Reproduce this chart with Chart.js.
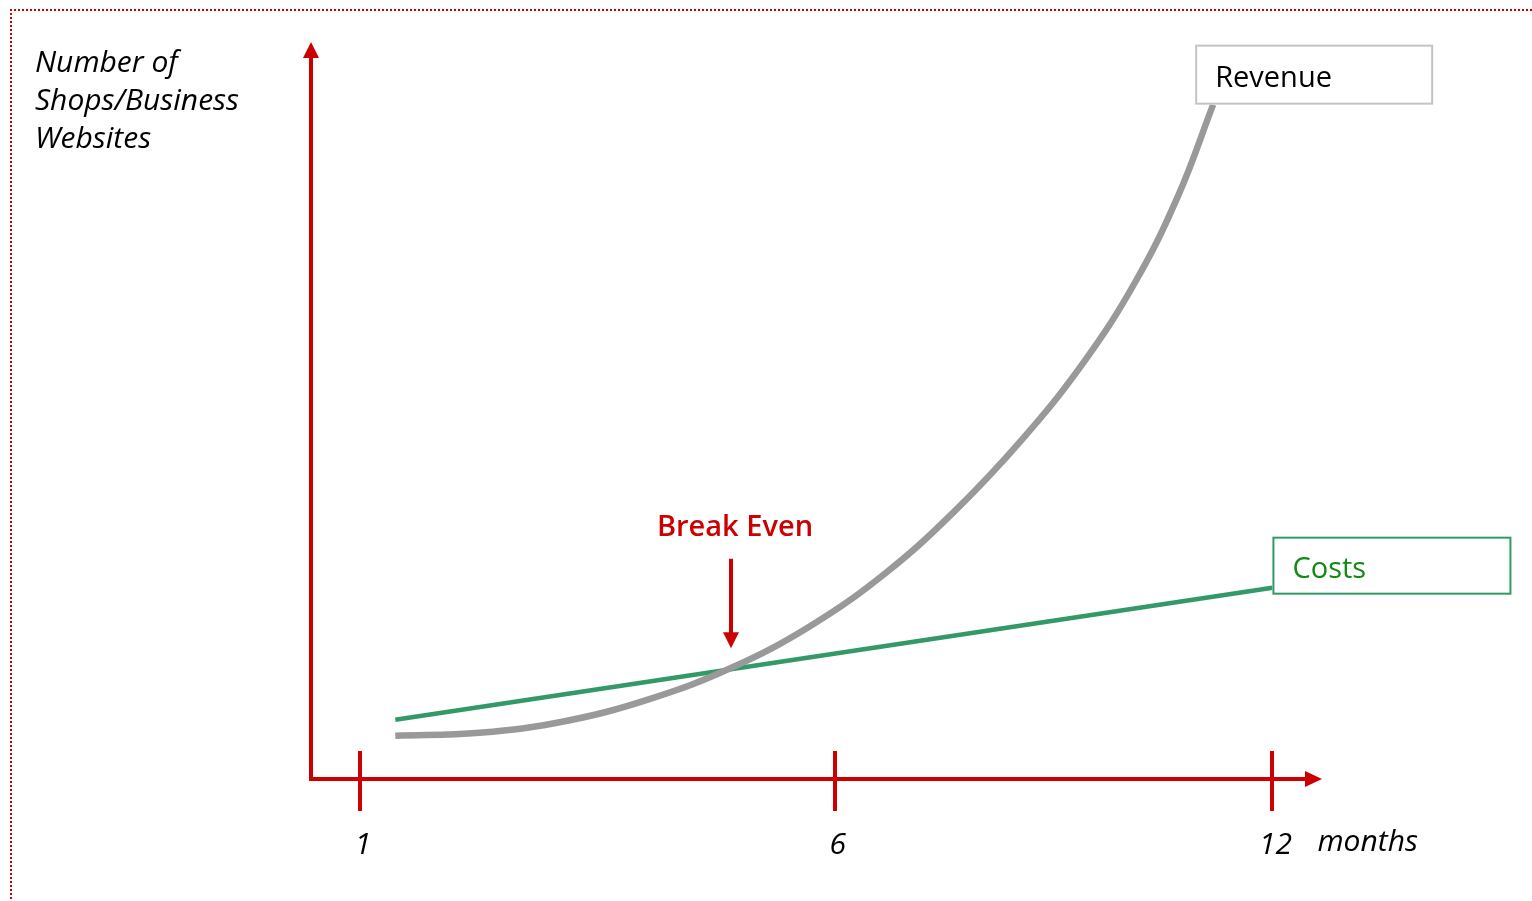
<!DOCTYPE html>
<html>
<head>
<meta charset="utf-8">
<script src="https://cdn.jsdelivr.net/npm/chart.js@4/dist/chart.umd.min.js"></script>
<style>
html, body { margin: 0; padding: 0; background: #fff; }
#wrap { position: relative; width: 1532px; height: 901px; overflow: hidden; }
#frameTop { position: absolute; left: 10px; top: 9px; width: 1522px; height: 2px;
  background: repeating-linear-gradient(to right, #cc0000 0 2px, transparent 2px 4px); pointer-events: none; }
#frameLeft { position: absolute; left: 10px; top: 9px; width: 2px; height: 892px;
  background: repeating-linear-gradient(to bottom, #cc0000 0 2px, transparent 2px 4px); pointer-events: none; }
canvas { position: absolute; left: 0; top: 0; }
</style>
</head>
<body>
<div id="wrap">
  <canvas id="c" width="1532" height="901"></canvas>
  <div id="frameTop"></div>
  <div id="frameLeft"></div>
</div>
<script>
// ---------- data ----------
const tickMonths = [1, 6, 12];
const tickLabels = ['1', '6', '12'];
const xAxisTitle = 'months';
const yAxisTitle = ['Number of', 'Shops/Business', 'Websites'];
const seriesNames = ['Revenue', 'Costs'];

const revenueMonths = [1.29, 2.05, 2.90, 3.82, 4.75, 5.70, 6.64, 7.54, 8.44, 9.28, 10.01, 10.62, 11.13];
const revenueValues = [6.0, 6.4, 8.0, 11.1, 15.4, 21.2, 28.5, 37.1, 47.0, 57.6, 68.8, 80.7, 93.4];

const costMonths = [1.29, 12];
const costValues = [8.2, 26.5];

const breakEvenLabel = 'Break Even';
const breakEvenMonth = 4.75;
const breakEvenArrow = [30.5, 18.1];   // arrow from / to (y units)
const breakEvenTextAt = 33.7;          // text baseline (y units)

// ---------- styling ----------
const RED = '#cc0000';
const GREEN_LINE = '#339966';
const GREEN_TEXT = '#128a12';
const GREY_LINE = '#999999';
const FONT = '"Open Sans", "DejaVu Sans", sans-serif';
const X_EXPONENT = 0.75;

// ---------- a power x scale (schematic month axis) ----------
class PowScale extends Chart.LinearScale {
  getPixelForValue(v) {
    const a = Math.pow(this.min, X_EXPONENT), b = Math.pow(this.max, X_EXPONENT);
    return this.getPixelForDecimal((Math.pow(v, X_EXPONENT) - a) / (b - a));
  }
  getValueForPixel(px) {
    const a = Math.pow(this.min, X_EXPONENT), b = Math.pow(this.max, X_EXPONENT);
    const d = this.getDecimalForPixel(px);
    return Math.pow(a + d * (b - a), 1 / X_EXPONENT);
  }
}
PowScale.id = 'pow';
PowScale.defaults = Chart.LinearScale.defaults;
Chart.register(PowScale);

const toPoints = (xs, ys) => xs.map((m, i) => ({ x: m, y: ys[i] }));

function labelBox(ctx, x, y, w, h, stroke, text, color, tx, tyBase) {
  ctx.fillStyle = '#fff';
  ctx.fillRect(x, y, w, h);
  ctx.lineWidth = 2;
  ctx.strokeStyle = stroke;
  ctx.strokeRect(x + 1, y + 1, w - 2, h - 2);
  ctx.fillStyle = color;
  ctx.font = '29px ' + FONT;
  ctx.textAlign = 'left';
  ctx.textBaseline = 'alphabetic';
  ctx.fillText(text, tx, tyBase);
}

const schematic = {
  id: 'schematic',
  beforeDatasetsDraw(chart) {
    const { ctx, chartArea: a, scales: { x } } = chart;
    ctx.save();
    ctx.fillStyle = RED;
    // y axis + arrow
    ctx.fillRect(a.left - 2, a.top, 4, a.bottom - a.top + 2);
    ctx.beginPath();
    ctx.moveTo(a.left - 8, a.top + 1);
    ctx.lineTo(a.left + 8, a.top + 1);
    ctx.lineTo(a.left, a.top - 15);
    ctx.closePath();
    ctx.fill();
    // x axis + arrow
    ctx.fillRect(a.left - 2, a.bottom - 2, a.right - a.left + 2, 4);
    ctx.beginPath();
    ctx.moveTo(a.right - 1, a.bottom - 8);
    ctx.lineTo(a.right - 1, a.bottom + 8);
    ctx.lineTo(a.right + 16, a.bottom);
    ctx.closePath();
    ctx.fill();
    // tick marks
    tickMonths.forEach(m => {
      const px = Math.round(x.getPixelForValue(m));
      ctx.fillRect(px - 2, a.bottom - 28, 4, 60);
    });
    // tick labels
    ctx.fillStyle = '#000';
    ctx.font = 'italic 30px ' + FONT;
    ctx.textAlign = 'center';
    ctx.textBaseline = 'alphabetic';
    tickMonths.forEach((m, i) => {
      ctx.fillText(tickLabels[i], x.getPixelForValue(m) + 3, a.bottom + 75);
    });
    ctx.textAlign = 'left';
    ctx.fillText(xAxisTitle, x.getPixelForValue(tickMonths[tickMonths.length - 1]) + 45, a.bottom + 72);
    // y axis title
    yAxisTitle.forEach((t, i) => ctx.fillText(t, a.left - 276, a.top + 15 + i * 38));
    ctx.restore();
  },
  afterDatasetsDraw(chart) {
    const { ctx, scales: { x, y } } = chart;
    ctx.save();
    // Revenue label box at end of revenue curve
    const rx = x.getPixelForValue(revenueMonths[revenueMonths.length - 1]);
    const ry = y.getPixelForValue(revenueValues[revenueValues.length - 1]);
    labelBox(ctx, rx - 18, ry - 60, 238, 60, '#c4c4c4', seriesNames[0], '#000', rx + 2, ry - 18);
    // Costs label box at end of cost line
    const cx = x.getPixelForValue(costMonths[costMonths.length - 1]);
    const cy = y.getPixelForValue(costValues[costValues.length - 1]);
    labelBox(ctx, cx, cy - 51, 239, 58, GREEN_LINE, seriesNames[1], GREEN_TEXT, cx + 20, cy - 10);
    // Break even annotation
    const bx = Math.round(x.getPixelForValue(breakEvenMonth));
    const y0 = y.getPixelForValue(breakEvenArrow[0]);
    const y1 = y.getPixelForValue(breakEvenArrow[1]);
    ctx.fillStyle = RED;
    ctx.fillRect(bx - 2, y0, 4, (y1 - y0) - 14);
    ctx.beginPath();
    ctx.moveTo(bx - 8, y1 - 16);
    ctx.lineTo(bx + 8, y1 - 16);
    ctx.lineTo(bx, y1);
    ctx.closePath();
    ctx.fill();
    ctx.font = '600 29px ' + FONT;
    ctx.textAlign = 'center';
    ctx.textBaseline = 'alphabetic';
    ctx.fillText(breakEvenLabel, bx + 4, y.getPixelForValue(breakEvenTextAt));
    ctx.restore();
  }
};

new Chart(document.getElementById('c'), {
  type: 'line',
  data: {
    datasets: [
      {
        label: seriesNames[0],
        data: toPoints(revenueMonths, revenueValues),
        borderColor: GREY_LINE,
        borderWidth: 6.5,
        tension: 0.4,
        borderCapStyle: 'butt',
        pointRadius: 0,
        fill: false
      },
      {
        label: seriesNames[1],
        data: toPoints(costMonths, costValues),
        borderColor: GREEN_LINE,
        borderWidth: 4.5,
        borderCapStyle: 'butt',
        pointRadius: 0,
        fill: false
      }
    ]
  },
  options: {
    responsive: false,
    animation: false,
    events: [],
    layout: { padding: { left: 311, right: 226, top: 57, bottom: 122 } },
    plugins: { legend: { display: false }, tooltip: { enabled: false }, title: { display: false } },
    scales: {
      x: { type: 'pow', min: 0.63, max: 12.5, display: false },
      y: { type: 'linear', min: 0, max: 100, display: false }
    }
  },
  plugins: [schematic]
});
</script>
</body>
</html>
